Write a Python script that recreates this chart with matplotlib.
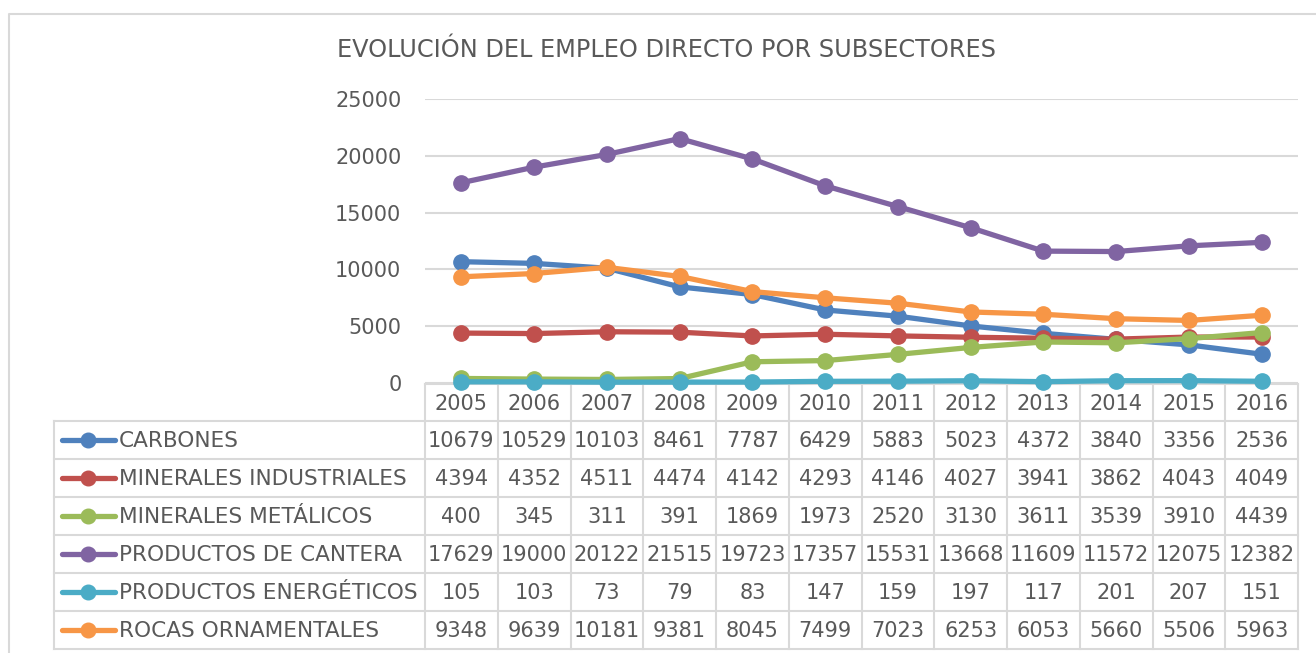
"""Empleo directo por subsectores: line chart with data table below."""

import matplotlib

matplotlib.use("Agg", force=True)
import matplotlib.pyplot as plt

years = [2005, 2006, 2007, 2008, 2009, 2010, 2011, 2012, 2013, 2014, 2015, 2016]
series_names = [
    "CARBONES",
    "MINERALES INDUSTRIALES",
    "MINERALES METÁLICOS",
    "PRODUCTOS DE CANTERA",
    "PRODUCTOS ENERGÉTICOS",
    "ROCAS ORNAMENTALES",
]
carbones = [10679, 10529, 10103, 8461, 7787, 6429, 5883, 5023, 4372, 3840, 3356, 2536]
min_industriales = [4394, 4352, 4511, 4474, 4142, 4293, 4146, 4027, 3941, 3862, 4043, 4049]
min_metalicos = [400, 345, 311, 391, 1869, 1973, 2520, 3130, 3611, 3539, 3910, 4439]
prod_cantera = [17629, 19000, 20122, 21515, 19723, 17357, 15531, 13668, 11609, 11572, 12075, 12382]
prod_energeticos = [105, 103, 73, 79, 83, 147, 159, 197, 117, 201, 207, 151]
rocas_ornamentales = [9348, 9639, 10181, 9381, 8045, 7499, 7023, 6253, 6053, 5660, 5506, 5963]
y_ticks = [0, 5000, 10000, 15000, 20000, 25000]

series = [carbones, min_industriales, min_metalicos, prod_cantera, prod_energeticos, rocas_ornamentales]
colors = ["#4F81BD", "#C0504D", "#9BBB59", "#8064A2", "#4BACC6", "#F79646"]
TXT = "#595959"
GRID = "#D9D9D9"
FS = 15

W, H = 1316, 653
fig = plt.figure(figsize=(W / 100, H / 100), dpi=100)

# pixel-space overlay for table, border and title
tab = fig.add_axes([0, 0, 1, 1])
tab.set_xlim(0, W)
tab.set_ylim(H, 0)
tab.set_axis_off()

# outer chart border
tab.plot([9, 9, W + 5], [H + 5, 14, 14], color=GRID, lw=1.5)

tab.text(337, 50, "EVOLUCIÓN DEL EMPLEO DIRECTO POR SUBSECTORES", fontsize=17.3,
         color=TXT, ha="left", va="center")

x0, x1 = 425, 1298
col_w = (x1 - x0) / len(years)
head_top, head_bot = 384, 421
row_h = 38
left = 54
n = len(series)
bottom = head_bot + n * row_h

# table grid lines
tab.plot([x0, x1], [head_top, head_top], color=GRID, lw=1.5)
for i in range(n + 1):
    y = head_bot + i * row_h
    tab.plot([left, x1], [y, y], color=GRID, lw=1.5)
tab.plot([left, left], [head_bot, bottom], color=GRID, lw=1.5)
for j in range(len(years) + 1):
    x = x0 + j * col_w
    tab.plot([x, x], [head_top, bottom], color=GRID, lw=1.5)

for j, yr in enumerate(years):
    tab.text(x0 + (j + 0.5) * col_w, (head_top + head_bot) / 2 + 1, str(yr),
             fontsize=FS, color=TXT, ha="center", va="center")

for i, (name, vals, c) in enumerate(zip(series_names, series, colors)):
    yc = head_bot + (i + 0.5) * row_h
    tab.plot([62, 115], [yc, yc], color=c, lw=3.8, solid_capstyle="round")
    tab.plot([88], [yc], "o", color=c, ms=10.5)
    tab.text(119, yc + 1, name, fontsize=15.6, color=TXT, ha="left", va="center")
    for j, v in enumerate(vals):
        tab.text(x0 + (j + 0.5) * col_w, yc + 1, str(v), fontsize=FS, color=TXT,
                 ha="center", va="center")

# main line chart
ax = fig.add_axes([x0 / W, 1 - 383 / H, (x1 - x0) / W, (383 - 99) / H])
ax.patch.set_alpha(0)
xs = list(range(len(years)))
for vals, c in zip(series, colors):
    ax.plot(xs, vals, color=c, lw=3.8, marker="o", ms=11, clip_on=False, zorder=3)
ax.set_xlim(-0.5, len(years) - 0.5)
ax.set_ylim(0, 25000)
ax.set_yticks(y_ticks)
ax.set_yticklabels([str(t) for t in y_ticks])
ax.set_xticks([])
ax.grid(axis="y", color=GRID, lw=1.5)
ax.set_axisbelow(True)
for s in ax.spines.values():
    s.set_visible(False)
ax.tick_params(axis="y", length=0, pad=17, labelsize=FS, labelcolor=TXT)

fig.savefig("out.png", dpi=100)
